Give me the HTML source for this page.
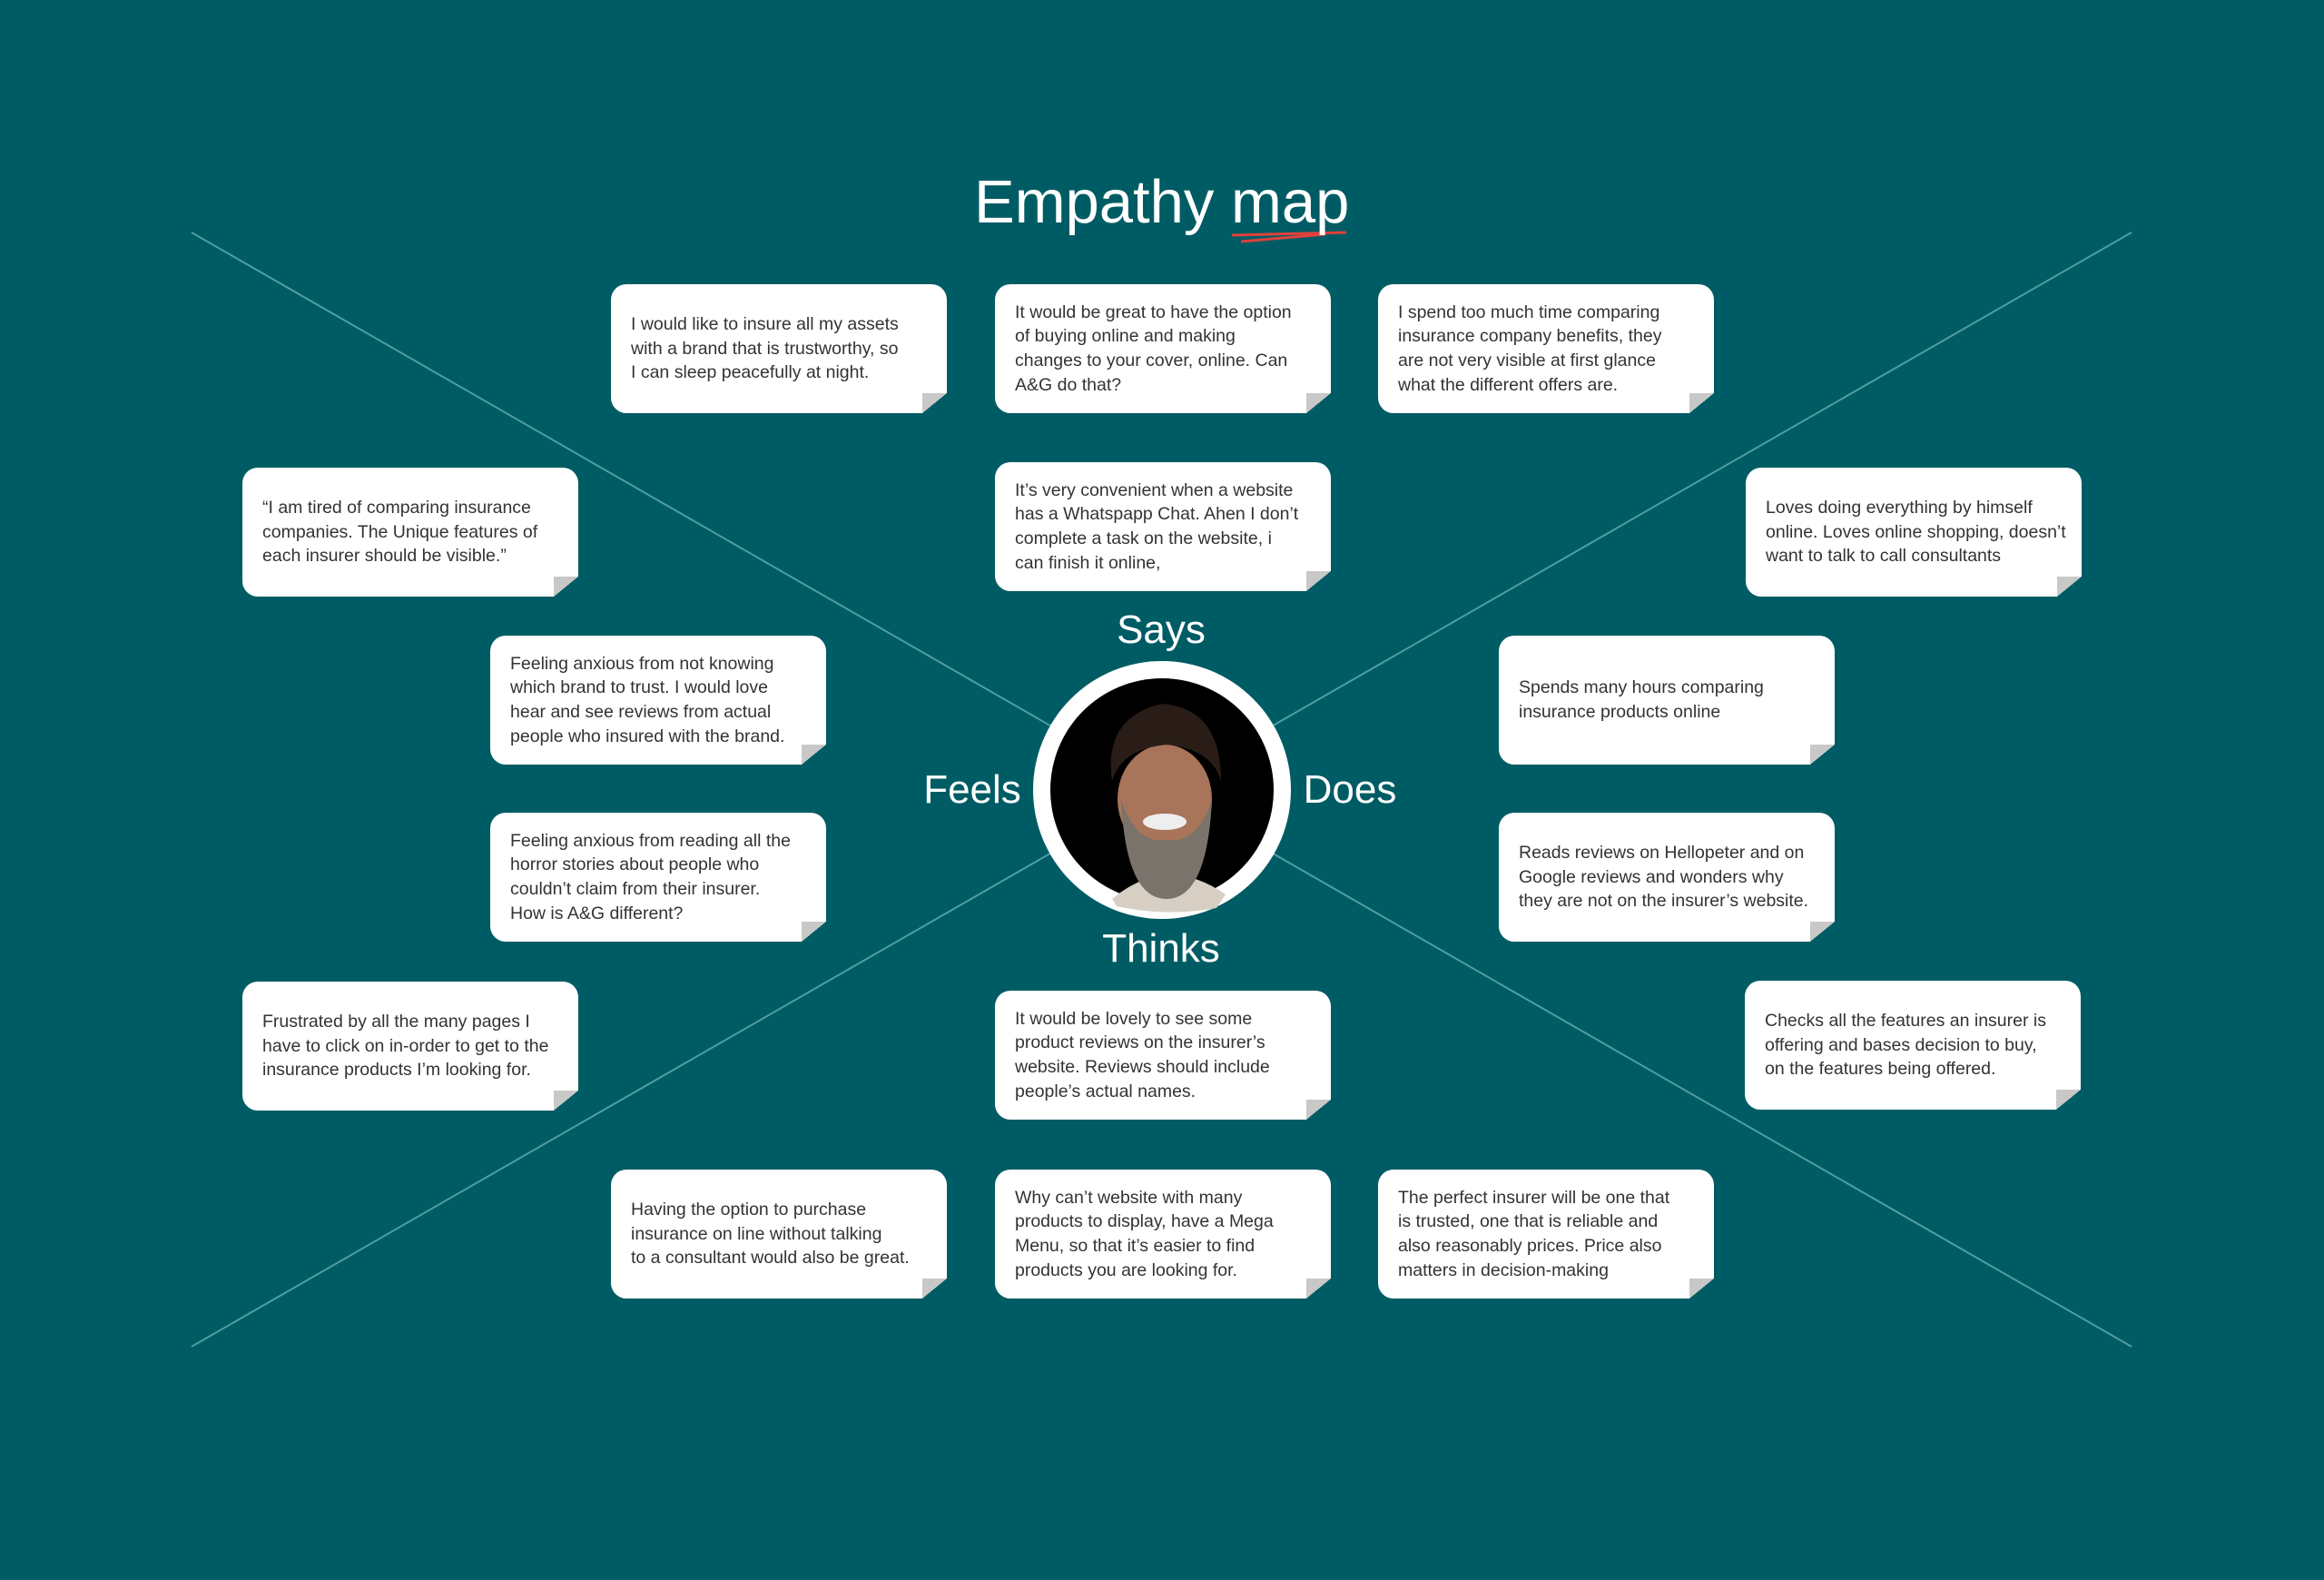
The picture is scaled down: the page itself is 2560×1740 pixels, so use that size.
<!DOCTYPE html>
<html><head><meta charset="utf-8"><style>
html,body{margin:0;padding:0}
body{width:2560px;height:1740px;background:#005c64;position:relative;overflow:hidden;font-family:"Liberation Sans",sans-serif}
.c{position:absolute;width:370px;height:142px;background:#fff;border-radius:17px 17px 0 17px;box-sizing:border-box;padding:0 4px 0 22px;display:flex;align-items:center;color:#333;font-size:19.5px;line-height:26.7px;white-space:nowrap}
.c::after{content:"";position:absolute;right:0;bottom:0;width:27px;height:22px;background:linear-gradient(to bottom right,#c8c8c8 50%,#005c64 50%)}
.l{position:absolute;color:#fff;font-size:44px;transform:translate(-50%,-50%);white-space:nowrap}
</style></head><body>
<svg width="2560" height="1740" style="position:absolute;left:0;top:0">
<line x1="211" y1="256" x2="2348" y2="1483" stroke="#4f9da2" stroke-width="2"/>
<line x1="2348" y1="256" x2="211" y2="1483" stroke="#4f9da2" stroke-width="2"/>
<line x1="1357" y1="259" x2="1483" y2="256" stroke="#e0413a" stroke-width="3"/>
<line x1="1367" y1="266" x2="1460" y2="258" stroke="#e0413a" stroke-width="3"/>
<circle cx="1280" cy="870" r="142" fill="#fff"/>
<circle cx="1280" cy="870" r="123" fill="#000"/>
<path d="M1225 990 Q1285 940 1350 985 L1340 1000 Q1285 1010 1230 998Z" fill="#d8cfc4"/>
<ellipse cx="1283" cy="880" rx="52" ry="60" fill="#a8745a"/>
<path d="M1235 880 Q1240 990 1285 990 Q1330 990 1335 880 Q1320 930 1285 925 Q1250 930 1235 880Z" fill="#7a736b"/>
<ellipse cx="1283" cy="905" rx="24" ry="9" fill="#eee"/>
<path d="M1225 860 Q1215 790 1280 775 Q1345 780 1345 860 Q1335 825 1285 820 Q1235 825 1225 860Z" fill="#2a1d17"/>
</svg>
<div style="position:absolute;left:1073px;top:184px;font-size:67px;color:#fff;white-space:nowrap">Empathy map</div>
<div class="l" style="left:1279px;top:694px">Says</div>
<div class="l" style="left:1071px;top:870px">Feels</div>
<div class="l" style="left:1487px;top:870px">Does</div>
<div class="l" style="left:1279px;top:1045px">Thinks</div>

<div class="c" style="left:673px;top:313px">I would like to insure all my assets<br>with a brand that is trustworthy, so<br>I can sleep peacefully at night.</div>
<div class="c" style="left:1096px;top:313px">It would be great to have the option<br>of buying online and making<br>changes to your cover, online. Can<br>A&amp;G do that?</div>
<div class="c" style="left:1518px;top:313px">I spend too much time comparing<br>insurance company benefits, they<br>are not very visible at first glance<br>what the different offers are.</div>
<div class="c" style="left:1096px;top:509px">It’s very convenient when a website<br>has a Whatspapp Chat. Ahen I don’t<br>complete a task on the website, i<br>can finish it online,</div>
<div class="c" style="left:267px;top:515px">“I am tired of comparing insurance<br>companies. The Unique features of<br>each insurer should be visible.”</div>
<div class="c" style="left:1923px;top:515px">Loves doing everything by himself<br>online. Loves online shopping, doesn’t<br>want to talk to call consultants</div>
<div class="c" style="left:540px;top:700px">Feeling anxious from not knowing<br>which brand to trust. I would love<br>hear and see reviews from actual<br>people who insured with the brand.</div>
<div class="c" style="left:1651px;top:700px">Spends many hours comparing<br>insurance products online</div>
<div class="c" style="left:540px;top:895px">Feeling anxious from reading all the<br>horror stories about people who<br>couldn’t claim from their insurer.<br>How is A&amp;G different?</div>
<div class="c" style="left:1651px;top:895px">Reads reviews on Hellopeter and on<br>Google reviews and wonders why<br>they are not on the insurer’s website.</div>
<div class="c" style="left:267px;top:1081px">Frustrated by all the many pages I<br>have to click on in-order to get to the<br>insurance products I’m looking for.</div>
<div class="c" style="left:1922px;top:1080px">Checks all the features an insurer is<br>offering and bases decision to buy,<br>on the features being offered.</div>
<div class="c" style="left:1096px;top:1091px">It would be lovely to see some<br>product reviews on the insurer’s<br>website. Reviews should include<br>people’s actual names.</div>
<div class="c" style="left:673px;top:1288px">Having the option to purchase<br>insurance on line without talking<br>to a consultant would also be great.</div>
<div class="c" style="left:1096px;top:1288px">Why can’t website with many<br>products to display, have a Mega<br>Menu, so that it’s easier to find<br>products you are looking for.</div>
<div class="c" style="left:1518px;top:1288px">The perfect insurer will be one that<br>is trusted, one that is reliable and<br>also reasonably prices. Price also<br>matters in decision-making</div>
</body></html>
